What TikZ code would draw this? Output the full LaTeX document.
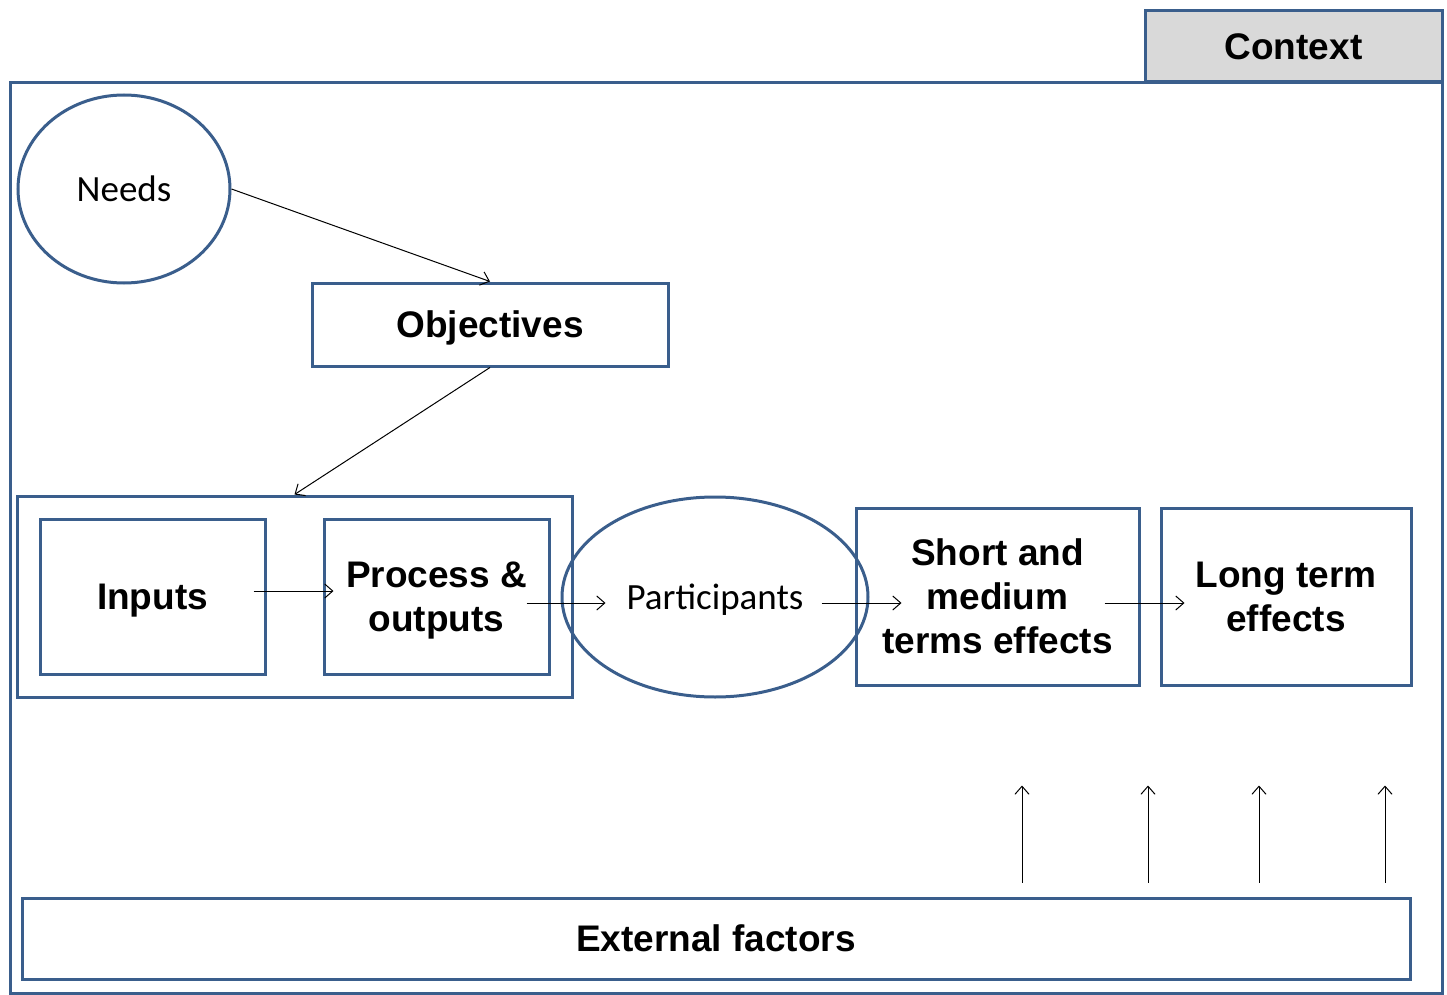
\documentclass[tikz,border=0pt]{standalone}
\usepackage{fontspec}
\setmainfont{Liberation Sans}
\newfontfamily\calfont{Carlito}
\usetikzlibrary{arrows.meta,shapes.geometric}
\definecolor{frameblue}{RGB}{58,94,140}
\tikzset{
    box/.style = {
        draw = frameblue,
        line width = 1.5pt,
        rectangle,
        inner sep = 0pt,
        text depth = 0pt,
        align = center,
        font = \fontsize{18.5}{22}\selectfont\bfseries,
        },
    oval/.style = {
        draw = frameblue,
        line width = 1.5pt,
        ellipse,
        inner sep = 0pt,
        text depth = 0pt,
        font = \fontsize{18.5}{22}\selectfont\calfont,
        },
    arr/.style = {
        -{Straight Barb[length=4pt,width=7pt]},
        line width = 0.5pt,
        },
}

\begin{document}
\begin{tikzpicture}[x=0.5pt, y=-0.5pt]
            \useasboundingbox (0,0) rectangle (1447,995);

            % context frame
            \node[box, fill=black!15, minimum width=148.5pt, minimum height=35.5pt] (ctx) at (1293.5,46.5) {Context};
            \node[box, minimum width=716pt, minimum height=455pt] (frame) at (726,538) {};

            \node[oval, minimum width=106pt, minimum height=94pt] (needs) at (124,189) {Needs};
            \node[box, minimum width=178pt, minimum height=41.5pt] (obj) at (490,324.5) {Objectives};

            % programme
            \node[box, minimum width=277.5pt, minimum height=100.5pt] (grp) at (294.5,596.5) {};
            \node[box, minimum width=112.5pt, minimum height=77.5pt] (inp) at (152.5,596.5) {Inputs};
            \node[box, minimum width=112.5pt, minimum height=77.5pt] (proc) at (436.5,596.5) {Process \&\\outputs};

            \node[oval, minimum width=153pt, minimum height=100pt] (part) at (715,597) {Participants};
            \node[box, minimum width=141.5pt, minimum height=88.5pt] (short) at (997.5,596.5) {Short and\\medium\\terms effects};
            \node[box, minimum width=125pt, minimum height=88.5pt] (long) at (1286,596.5) {Long term\\effects};

            \node[box, minimum width=694pt, minimum height=40.5pt] (ext) at (716,938.5) {External factors};

            \draw[arr] (needs.east) -- (obj.north);
            \draw[arr] (obj.south) -- (grp.north);
            \draw[arr] ([xshift=-6.5pt,yshift=2.75pt]inp.east) -- ([xshift=5.5pt,yshift=2.75pt]proc.west);
            \draw[arr] ([xshift=-12pt,yshift=-3.25pt]proc.east) -- ([xshift=22.5pt,yshift=-3pt]part.west);
            \draw[arr] ([xshift=-24pt,yshift=-3pt]part.east) -- ([xshift=23.5pt,yshift=-3.25pt]short.west);
            \draw[arr] ([xshift=-18pt,yshift=-3.25pt]short.east) -- ([xshift=12.5pt,yshift=-3.25pt]long.west);

            \foreach \dx in {153,216,271.5,334.5}
                \draw[arr] ([xshift=\dx pt,yshift=7pt]ext.north) -- ++(0,-97);
\end{tikzpicture}
\end{document}
